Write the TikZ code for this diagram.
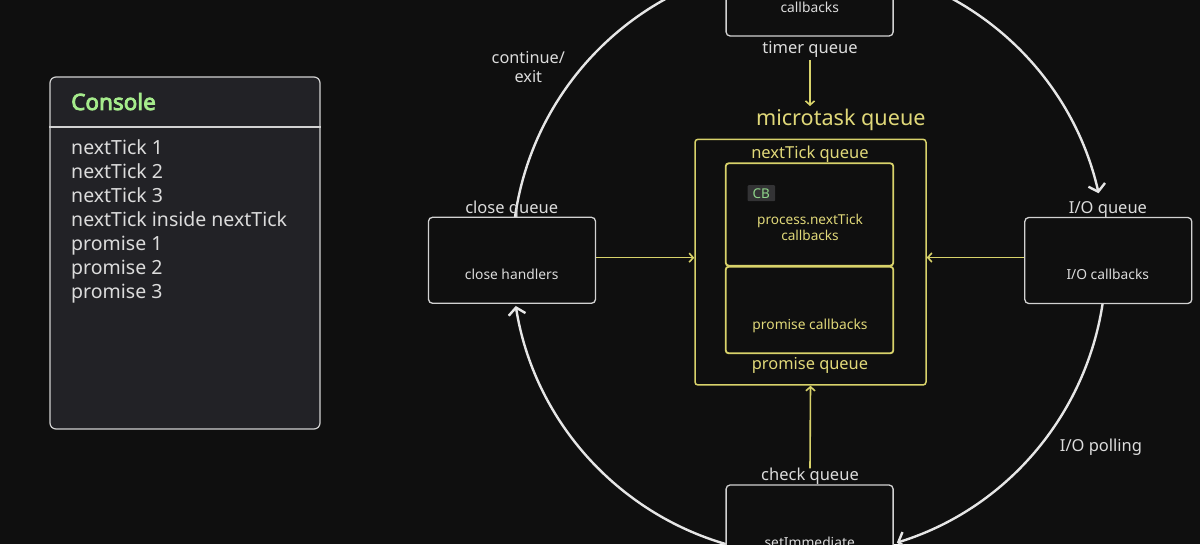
\documentclass[tikz,border=0pt]{standalone}
\usepackage{fontspec}
\setmainfont{Noto Sans}
\newfontfamily\titlefont{Noto Sans}[FakeBold=3.5]
\usetikzlibrary{arrows.meta}
\definecolor{bg}{HTML}{0F0F0F}
\definecolor{linew}{HTML}{E6E6E6}
\definecolor{boxw}{HTML}{D2D2D2}
\definecolor{txt}{HTML}{DCDCDC}
\definecolor{yel}{HTML}{D8D26A}
\definecolor{yeltxt}{HTML}{E0D879}
\definecolor{consfill}{HTML}{222226}
\definecolor{consgreen}{HTML}{A6EC8C}
\definecolor{cbfill}{HTML}{333335}
\definecolor{cbgreen}{HTML}{8FD58A}
\newcommand{\fsz}[2]{\fontsize{#1}{#2}\selectfont}
\begin{document}
\begin{tikzpicture}[x=1pt,y=1pt,
  qbox/.style={draw=boxw, line width=1.3pt, rounded corners=4pt, fill=bg, minimum width=167pt, minimum height=86pt, inner sep=0pt},
  ybox/.style={draw=yel, line width=1.5pt, rounded corners=3pt, inner sep=0pt},
  lbl/.style={text=txt, font=\fsz{16.5}{19}, inner sep=0pt, anchor=base},
  small/.style={text=txt, font=\fsz{13.8}{16}, inner sep=0pt, anchor=base},
  ylbl/.style={text=yeltxt, inner sep=0pt, anchor=base},
  yarrow/.style={draw=yel, line width=1.6pt, -{Straight Barb[length=4pt,width=9pt]}},
  loop/.style={draw=linew, line width=2.4pt, -{Straight Barb[length=7pt,width=17pt]}},
  cline/.style={text=txt, font=\fsz{19.5}{22}, inner sep=0pt, anchor=base west}]
\useasboundingbox (0,0) rectangle (1200,544);
\fill[bg] (0,0) rectangle (1200,544);

% console
\node[draw=boxw, line width=1.2pt, fill=consfill, rounded corners=6pt, minimum width=270pt, minimum height=352pt, inner sep=0pt] (console) at (185,291) {};
\draw[boxw, line width=1.2pt] (console.west |- 0,417) -- (console.east |- 0,417);
\node[text=consgreen, font=\titlefont\fsz{22.5}{26}, inner sep=0pt, anchor=base west] (ctitle) at (71,434) {Console};
\foreach \t [count=\i] in {nextTick 1, nextTick 2, nextTick 3, nextTick inside nextTick, promise 1, promise 2, promise 3}
  \node[cline] (cl\i) at (71,{389-24*(\i-1)}) {\t};

% event loop arcs
\coordinate (c) at (809,285);
\draw[loop] ([shift={(171.9:297)}]c) arc[start angle=171.9, end angle=12.8, radius=297];
\draw[loop] ([shift={(-8.6:297)}]c) arc[start angle=-8.6, end angle=-72.8, radius=297];
\draw[loop] ([shift={(-106:297)}]c) arc[start angle=-106, end angle=-170.9, radius=297];

% phase boxes
\node[qbox] (timer) at (809.6,551) {};
\node[qbox] (close) at (512,283.7) {};
\node[qbox] (io) at (1108.3,283.5) {};
\node[qbox] (check) at (809.6,16) {};

\node[small] (timercb) at (809.7,531.7) {callbacks};
\node[lbl] (timerq) at (810,490.7) {timer queue};
\node[lbl] (closeq) at (511.7,330.7) {close queue};
\node[small] (closeh) at (511.7,264.7) {close handlers};
\node[lbl] (ioq) at (1108,330.7) {I/O queue};
\node[small] (iocb) at (1107.8,264.7) {I/O callbacks};
\node[lbl] (checkq) at (810,64) {check queue};
\node[small] (setimm) at (809.7,-3) {setImmediate};

\node[text=txt, font=\fsz{16.3}{19}, inner sep=0pt, align=center, anchor=base] (cont) at (528.3,461.7) {continue/\\exit};
\node[lbl] (poll) at (1101,92.3) {I/O polling};

% microtask queue
\node[ybox, minimum width=231pt, minimum height=245.7pt] (micro) at (810.5,281.85) {};
\node[ybox, line width=1.8pt, minimum width=167.6pt, minimum height=102.4pt] (ntbox) at (809.5,329.5) {};
\node[ybox, line width=1.8pt, minimum width=167.6pt, minimum height=86.6pt] (prbox) at (809.5,234) {};
\node[ylbl, font=\fsz{21.6}{25}] (mq) at (840.8,418) {microtask queue};
\node[ylbl, font=\fsz{16.5}{19}] (ntq) at (810,385.7) {nextTick queue};
\node[ylbl, font=\fsz{16.4}{19}] (prq) at (810,174.7) {promise queue};
\node[ylbl, font=\fsz{13.6}{15.7}, align=center] (ntcb) at (810,303.3) {process.nextTick\\callbacks};
\node[ylbl, font=\fsz{13.8}{16}] (prcb) at (810,214.7) {promise callbacks};
\node[fill=cbfill, text=cbgreen, font=\fsz{13.5}{15}, minimum width=27.5pt, minimum height=16pt, inner sep=0pt, rounded corners=1pt] (cb) at (761.3,350.8) {CB};

% yellow connectors
\coordinate (mqtop) at (810,438);
\draw[yarrow] ([yshift=-3pt]timerq.south) -- (mqtop);
\draw[yarrow] ([yshift=2.6pt]close.east) -- ([yshift=2.6pt]close.east -| micro.west);
\draw[yarrow] ([yshift=3pt]io.west) -- ([yshift=3pt]io.west -| micro.east);
\draw[yarrow] ([yshift=-1pt]checkq.north) -- (micro.south);
\end{tikzpicture}
\end{document}
